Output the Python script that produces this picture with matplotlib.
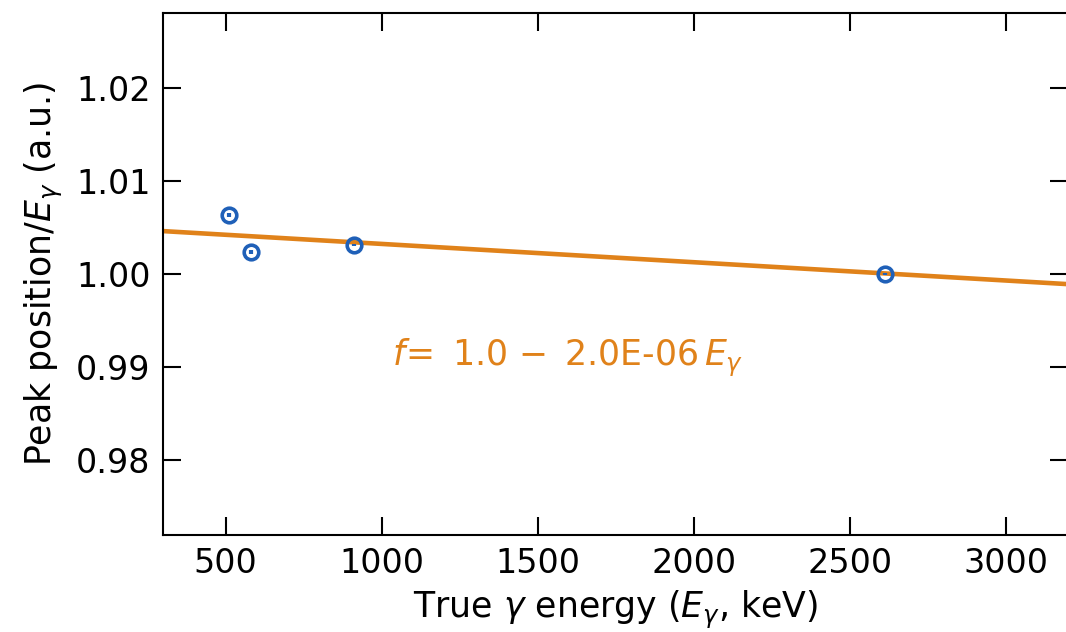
import numpy as np
import matplotlib.pyplot as plt

energy = [511, 583, 911, 2614]
ratio = [1.00634, 1.00237, 1.00312, 1.00000]
ratio_err = [0.00020, 0.00020, 0.00015, 0.00010]

fit_a = 1.00521
fit_b = -1.97e-06
fit_label = r'$f\!=$ 1.0 $-\,$ 2.0E-06$\,E_\gamma$'

blue = '#1f60b8'
orange = '#e0821a'

fig = plt.figure(figsize=(10.66, 6.32), dpi=100)
ax = fig.add_axes([0.153, 0.1535, 0.849, 0.8259])

x_fit = np.linspace(300, 3200, 200)
ax.plot(x_fit, fit_a + fit_b * x_fit, color=orange, lw=3.3, zorder=2)
ax.errorbar(energy, ratio, yerr=ratio_err, fmt='o', mfc='none', mec=blue, ecolor=blue,
            ms=10.5, mew=2.6, elinewidth=3, capsize=0, zorder=3)

ax.text(1035, 0.9910, fit_label, color=orange, fontsize=25, va='center', ha='left')

ax.set_xlim(300, 3200)
ax.set_ylim(0.9719, 1.0281)
ax.set_xticks([500, 1000, 1500, 2000, 2500, 3000])
ax.set_yticks([0.98, 0.99, 1.00, 1.01, 1.02])
ax.set_yticklabels(['0.98', '0.99', '1.00', '1.01', '1.02'])
ax.tick_params(direction='in', length=13, width=1.5, labelsize=24, top=True, right=True, pad=9)
for s in ax.spines.values():
    s.set_linewidth(1.5)

ax.set_xlabel(r'True $\gamma$ energy ($E_\gamma$, keV)', fontsize=25, labelpad=6)
ax.set_ylabel(r'Peak position/$E_\gamma$ (a.u.)', fontsize=25, labelpad=8)

fig.savefig('out.png', dpi=100)
